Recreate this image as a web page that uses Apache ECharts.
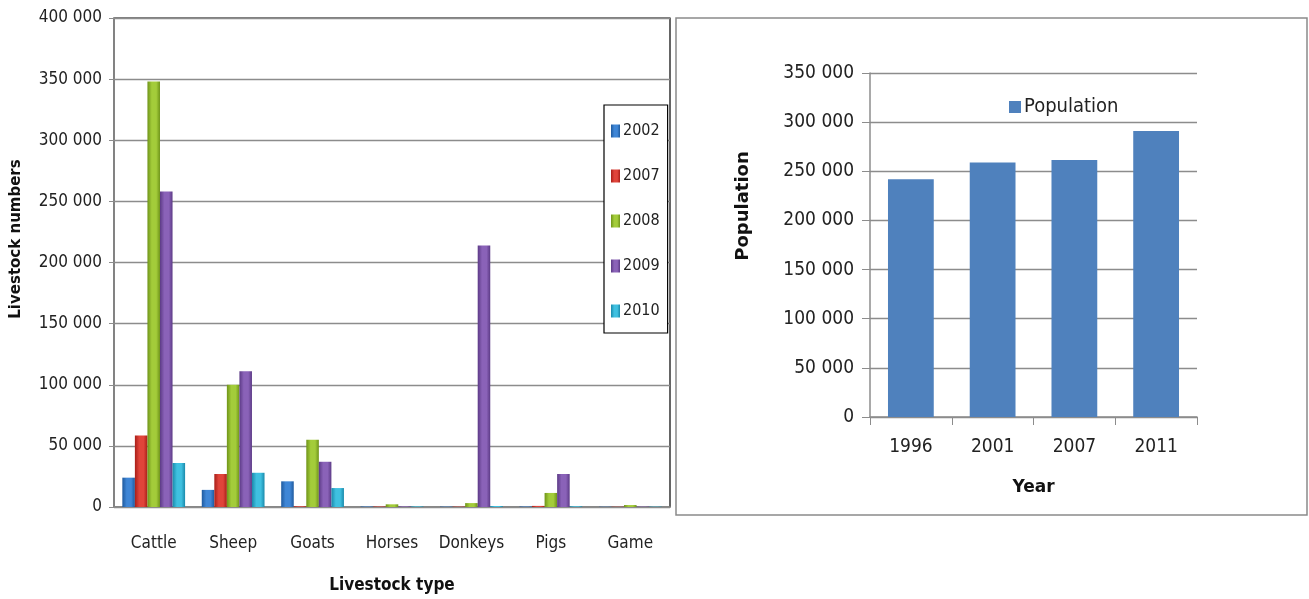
<!DOCTYPE html>
<html>
<head>
<meta charset="utf-8">
<script src="https://cdn.jsdelivr.net/npm/echarts@6/dist/echarts.min.js"></script>
<style>
  html, body { margin: 0; padding: 0; background: #fff; }
  #chart { width: 1309px; height: 599px; }
</style>
</head>
<body>
<div id="chart"></div>
<script>
// livestock chart (left)
const livestockTypes = ['Cattle', 'Sheep', 'Goats', 'Horses', 'Donkeys', 'Pigs', 'Game']
const livestockYears = ['2002', '2007', '2008', '2009', '2010']
const y2002 = [24000, 14000, 21000, 400, 300, 400, 200]
const y2007 = [58500, 27000, 600, 400, 300, 900, 200]
const y2008 = [348000, 100000, 55000, 2200, 3200, 11500, 1600]
const y2009 = [258000, 111000, 37000, 500, 214000, 27000, 300]
const y2010 = [36000, 28000, 15500, 500, 800, 600, 300]
const livestockTicks = [0, 50000, 100000, 150000, 200000, 250000, 300000, 350000, 400000]

// population chart (right)
const popYears = ['1996', '2001', '2007', '2011']
const popValues = [242000, 259000, 261500, 291000]
const popTicks = [0, 50000, 100000, 150000, 200000, 250000, 300000, 350000]

const FONT = '"Liberation Sans Narrow", "DejaVu Sans Condensed", "Liberation Sans", sans-serif'
const BOLD = '"DejaVu Sans", "Open Sans", sans-serif'

// 空格千分位
function fmt(v) {
  return v === 0 ? '0' : String(v).replace(/\B(?=(\d{3})+(?!\d))/g, ' ')
}

// bar shading, lighter in the middle
function shade(c1, c2) {
  return new echarts.graphic.LinearGradient(0, 0, 1, 0, [
    { offset: 0, color: c2 },
    { offset: 0.35, color: c1 },
    { offset: 0.7, color: c1 },
    { offset: 1, color: c2 }
  ])
}

const yearColors = [
  ['#3f86d6', '#1f5a9e'],
  ['#e0443a', '#a81e18'],
  ['#a3cc3a', '#6f9419'],
  ['#8a62b8', '#5c3a86'],
  ['#3fc0e0', '#1a8aab']
]
const yearData = [y2002, y2007, y2008, y2009, y2010]

const livestockSeries = livestockYears.map((name, i) => ({
  name: name,
  type: 'bar',
  xAxisIndex: 0,
  yAxisIndex: 0,
  barGap: '0%',
  barCategoryGap: '21%',
  itemStyle: { color: shade(yearColors[i][0], yearColors[i][1]) },
  data: yearData[i]
}))

const option = {
  animation: false,
  graphic: [
    {
      type: 'rect',
      shape: { x: 676, y: 18, width: 631, height: 497 },
      style: { fill: 'none', stroke: '#8a8a8a', lineWidth: 1.5 },
      silent: true,
      z: -1
    },
    {
      type: 'text',
      x: 16, y: 239, rotation: Math.PI / 2,
      style: { text: 'Livestock numbers', font: 'bold 15px ' + BOLD, fill: '#111', align: 'center', verticalAlign: 'middle' }
    },
    {
      type: 'text',
      x: 743, y: 206, rotation: Math.PI / 2,
      style: { text: 'Population', font: 'bold 18px ' + BOLD, fill: '#111', align: 'center', verticalAlign: 'middle' }
    }
  ],
  legend: [
    {
      data: livestockYears,
      orient: 'vertical',
      left: 604, top: 105,
      width: 64,
      itemWidth: 9, itemHeight: 13,
      itemGap: 29,
      padding: [18, 8, 14, 7],
      borderColor: '#000', borderWidth: 1.2,
      backgroundColor: '#fff',
      icon: 'rect',
      textStyle: { fontFamily: FONT, fontSize: 16, color: '#222', lineHeight: 14, padding: [0, 0, 0, -2] }
    },
    {
      data: ['Population'],
      left: 1004, top: 92,
      itemWidth: 12, itemHeight: 12,
      icon: 'rect',
      textStyle: { fontFamily: FONT, fontSize: 20, color: '#222', padding: [0, 0, 0, -2] }
    }
  ],
  grid: [
    { left: 114, top: 18, width: 556, height: 493, show: true, borderColor: '#000', borderWidth: 1.2 },
    { left: 870, top: 73, width: 327, height: 344 }
  ],
  xAxis: [
    {
      gridIndex: 0,
      type: 'category',
      data: livestockTypes,
      axisLine: { lineStyle: { color: '#8c8c8c', width: 1.5 } },
      axisTick: { show: false },
      axisLabel: { fontFamily: FONT, fontSize: 17, color: '#222', margin: 28, interval: 0 },
      name: 'Livestock type',
      nameLocation: 'middle',
      nameGap: 70,
      nameTextStyle: { fontFamily: FONT, fontWeight: 'bold', fontSize: 17, color: '#111' }
    },
    {
      gridIndex: 1,
      type: 'category',
      data: popYears,
      axisLine: { lineStyle: { color: '#8c8c8c', width: 1.5 } },
      axisTick: { show: true, length: 8, lineStyle: { color: '#8c8c8c' } },
      axisLabel: { fontFamily: FONT, fontSize: 19, color: '#222', margin: 21, interval: 0 },
      name: 'Year',
      nameLocation: 'middle',
      nameGap: 62,
      nameTextStyle: { fontFamily: BOLD, fontWeight: 'bold', fontSize: 17, color: '#111' }
    }
  ],
  yAxis: [
    {
      gridIndex: 0,
      type: 'value',
      min: livestockTicks[0],
      max: livestockTicks[livestockTicks.length - 1],
      interval: livestockTicks[1] - livestockTicks[0],
      axisLine: { show: true, lineStyle: { color: '#8c8c8c', width: 1.5 } },
      axisTick: { show: true, length: 5, lineStyle: { color: '#8c8c8c' } },
      splitLine: { lineStyle: { color: '#8c8c8c', width: 1.3 } },
      axisLabel: { fontFamily: FONT, fontSize: 17, color: '#222', margin: 12, formatter: fmt }
    },
    {
      gridIndex: 1,
      type: 'value',
      min: popTicks[0],
      max: popTicks[popTicks.length - 1],
      interval: popTicks[1] - popTicks[0],
      axisLine: { show: true, lineStyle: { color: '#8c8c8c', width: 1.5 } },
      axisTick: { show: true, length: 8, lineStyle: { color: '#8c8c8c' } },
      splitLine: { lineStyle: { color: '#8c8c8c', width: 1.3 } },
      axisLabel: { fontFamily: FONT, fontSize: 19, color: '#222', margin: 16, formatter: fmt }
    }
  ],
  series: livestockSeries.concat([
    {
      name: 'Population',
      type: 'bar',
      xAxisIndex: 1,
      yAxisIndex: 1,
      barCategoryGap: '44%',
      itemStyle: { color: '#4f81bd' },
      data: popValues
    }
  ])
}

const myChart = echarts.init(document.getElementById('chart'))
myChart.setOption(option)
</script>
</body>
</html>
